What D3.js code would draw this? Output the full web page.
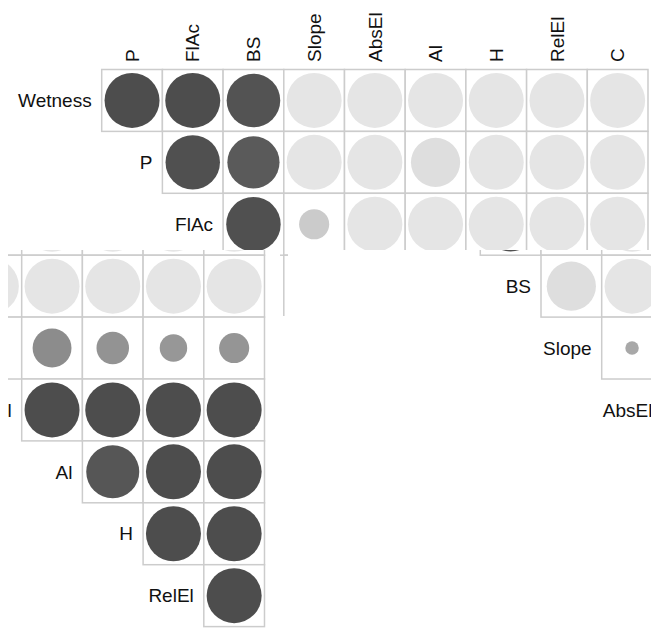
<!DOCTYPE html>
<html>
<head>
<meta charset="utf-8">
<script src="https://cdn.jsdelivr.net/npm/d3@7"></script>
<style>
  body { margin: 0; background: #ffffff; }
  text { font-family: 'Liberation Sans', Arial, sans-serif; fill: #111111; }
</style>
</head>
<body>
<div id="corrChart"></div>
<script>

// matrix labels
var rowNames = ['Wetness', 'P', 'FlAc', 'BS', 'Slope', 'AbsEl', 'Al', 'H', 'RelEl'];
var colNames = ['P', 'FlAc', 'BS', 'Slope', 'AbsEl', 'Al', 'H', 'RelEl', 'C'];

// correlation values, one list per row (upper triangle, starting at the diagonal column)
var wetnessRow = [1.00, 1.00, 0.95, -1.00, -1.00, -1.00, -1.00, -1.00, -1.00];
var pRow       = [0.98, 0.90, -1.00, -1.00, -0.80, -1.00, -1.00, -1.00];
var flacRow    = [0.98, -0.30, -1.00, -1.00, -1.00, -1.00, -1.00];
var bsRow      = [-0.80, -1.00, -1.00, -1.00, -1.00, -1.00];
var slopeRow   = [0.06, 0.50, 0.35, 0.25, 0.30];
var absElRow   = [1.00, 1.00, 1.00, 1.00];
var alRow      = [0.93, 1.00, 1.00];
var hRow       = [1.00, 1.00];
var relElRow   = [1.00];

var rowValues = [wetnessRow, pRow, flacRow, bsRow, slopeRow, absElRow, alRow, hRow, relElRow];

function createCorrGraphic() {

  var dataset = [];
  rowValues.forEach(function(vals, i) {
    vals.forEach(function(v, k) {
      dataset.push({ row: rowNames[i], col: colNames[i + k], value: v });
    });
  });
  drawCorrGraphic(dataset);
}

function drawCorrGraphic(dataset) {

  var w = 651;
  var h = 628;

  var x = d3.scaleBand()
            .domain(colNames)
            .range([101.7, 101.7 + 9 * 60.7]);

  var y = d3.scaleBand()
            .domain(rowNames)
            .range([69.5, 69.5 + 9 * 61.9]);

  var radius = d3.scaleSqrt()
                 .domain([0, 1])
                 .range([0, 27.5]);

  var shade = d3.scaleLinear()
                .domain([-1, -0.3, 0, 0.25, 0.5, 1])
                .range(['#e5e5e5', '#cbcbcb', '#adadad', '#979797', '#8c8c8c', '#4d4d4d']);

  var svg = d3.select('#corrChart')
              .append('svg')
              .attr('width', w)
              .attr('height', h);

  var defs = svg.append('defs');

  // the picture is cut into pieces: top strip, a piece slid left, a piece slid right
  var pieces = [
    { id: 'pieceTop',   shift: 0,      rects: [[0, 0, 651, 250], [280, 250, 8, 66]] },
    { id: 'pieceLeft',  shift: -383.5, rects: [[8, 250, 272, 378]] },
    { id: 'pieceRight', shift: 257.2,  rects: [[440, 250, 211, 378]] }
  ];

  pieces.forEach(function(p) {
    var clip = defs.append('clipPath').attr('id', p.id);
    p.rects.forEach(function(r) {
      clip.append('rect')
          .attr('x', r[0])
          .attr('y', r[1])
          .attr('width', r[2])
          .attr('height', r[3]);
    });

    var g = svg.append('g')
               .attr('clip-path', 'url(#' + p.id + ')')
               .append('g')
               .attr('transform', 'translate(' + p.shift + ',0)');

    drawMatrix(g, dataset, x, y, radius, shade);
  });
}

function drawMatrix(g, dataset, x, y, radius, shade) {

  var cw = x.bandwidth();
  var ch = y.bandwidth();

  var cells = g.selectAll('.cell')
               .data(dataset)
               .enter()
               .append('g')
               .attr('class', 'cell')
               .attr('transform', function(d) { return 'translate(' + x(d.col) + ',' + y(d.row) + ')' });

  cells.append('rect')
       .attr('width', cw)
       .attr('height', ch)
       .attr('fill', '#ffffff')
       .attr('stroke', '#cccccc')
       .attr('stroke-width', 1.5);

  cells.append('circle')
       .attr('cx', cw / 2)
       .attr('cy', ch / 2)
       .attr('r', function(d) { return radius(Math.abs(d.value)) })
       .attr('fill', function(d) { return shade(d.value) });

  g.selectAll('.colLabel')
   .data(colNames)
   .enter()
   .append('text')
   .attr('class', 'colLabel')
   .attr('transform', function(d) { return 'translate(' + (x(d) + cw / 2) + ',62) rotate(-90)' })
   .attr('dy', '0.35em')
   .style('font-size', '19px')
   .text(function(d) { return d });

  g.selectAll('.rowLabel')
   .data(rowNames)
   .enter()
   .append('text')
   .attr('class', 'rowLabel')
   .attr('x', function(d, i) { return x(colNames[i]) - 10 })
   .attr('y', function(d) { return y(d) + ch / 2 })
   .attr('dy', '0.35em')
   .attr('text-anchor', 'end')
   .style('font-size', '19px')
   .text(function(d) { return d });
}

createCorrGraphic();
</script>
</body>
</html>
